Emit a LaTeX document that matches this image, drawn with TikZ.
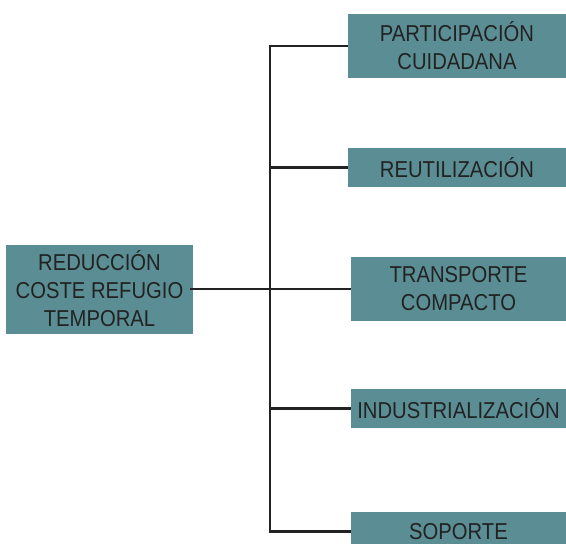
\documentclass[tikz,border=0pt]{standalone}
\usepackage{fontspec}
\usepackage{xcolor}
\usepackage{tikz}
\usetikzlibrary{positioning,calc}

\newfontfamily\boxfont[FakeStretch=0.88]{Liberation Sans}
\definecolor{boxteal}{RGB}{90,142,148}
\definecolor{ink}{RGB}{34,34,34}

\begin{document}
\begin{tikzpicture}[x=1pt, y=-1pt, thick,
    box/.style={fill=boxteal, text=ink, align=center, inner sep=0pt,
      font=\boxfont\fontsize{23}{28}\selectfont},
    link/.style={draw=ink, line width=2.2pt}]
  \useasboundingbox (0,0) rectangle (566,544);

  \node[box, minimum width=187pt, minimum height=89pt] (red) at (99.5,289) {REDUCCIÓN\\COSTE REFUGIO\\TEMPORAL};

  \node[box, minimum width=218pt, minimum height=64pt] (part) at (457,46) {PARTICIPACIÓN\\CUIDADANA};
  \node[box, minimum width=218pt, minimum height=39pt] (reut) at (457,167.5) {REUTILIZACIÓN};
  \node[box, minimum width=215pt, minimum height=64pt] (trans) at (458.5,289) {TRANSPORTE\\COMPACTO};
  \node[box, minimum width=215pt, minimum height=39pt] (indus) at (458.5,408.5) {INDUSTRIALIZACIÓN};
  \node[box, minimum width=215pt, minimum height=39pt] (sop) at (458.5,531.5) {SOPORTE};

  \coordinate (spine) at (270,289);

  \draw[link] (part.west) -| (spine) |- (sop.west);
  \foreach \b in {reut,trans,indus}
    \draw[link] (\b.west) -- (\b.west -| spine);
  \draw[link] ([xshift=-3pt]red.east) -- (spine);
\end{tikzpicture}
\end{document}
